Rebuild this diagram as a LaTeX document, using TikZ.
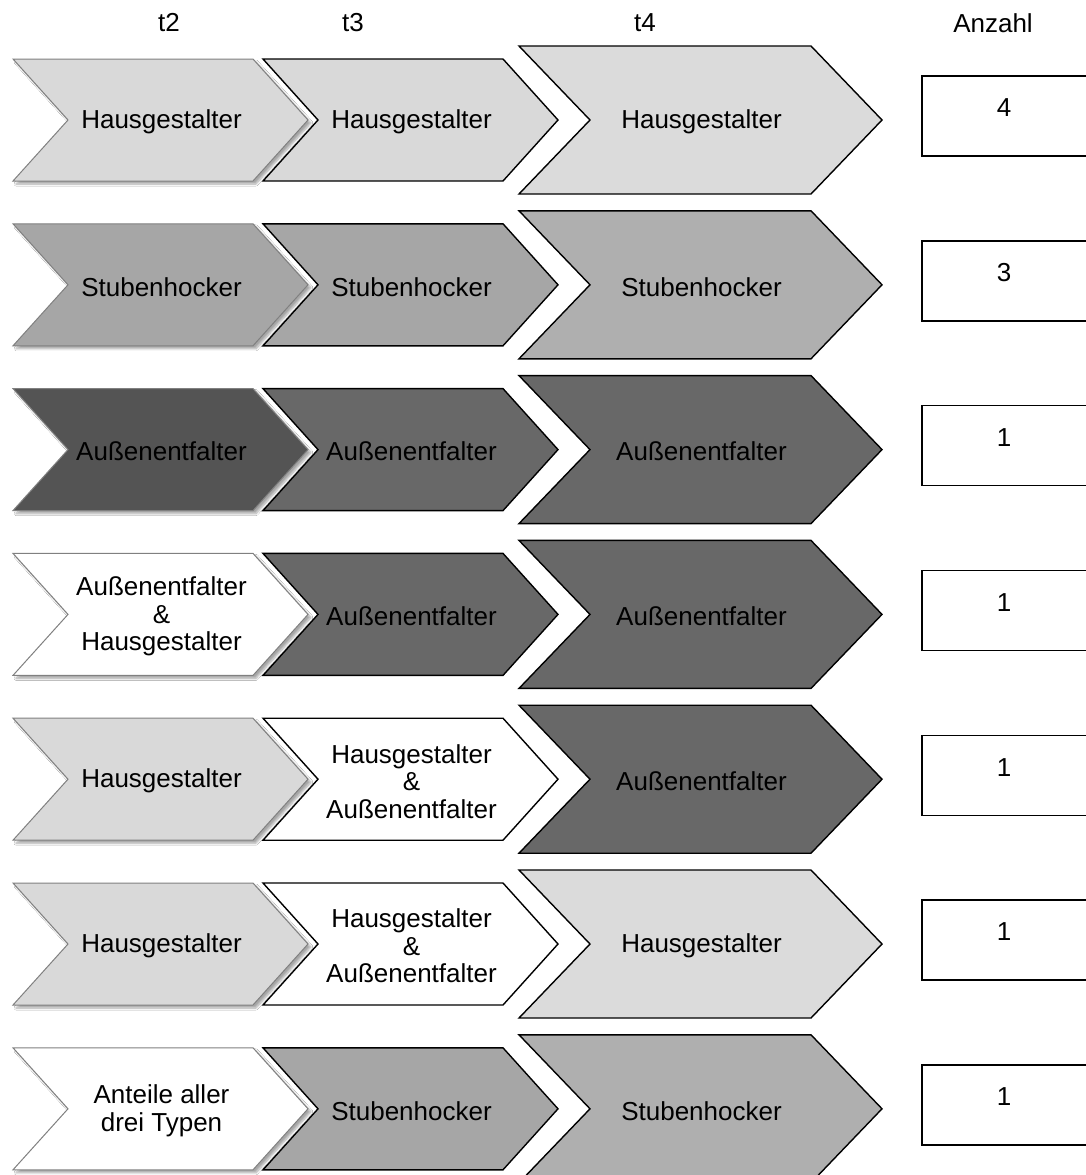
\documentclass[tikz,border=0pt]{standalone}
\usepackage{fontspec}
\setmainfont{Liberation Sans}
\usetikzlibrary{shadows.blur}
\definecolor{lg}{HTML}{D9D9D9}
\definecolor{lg3}{HTML}{DBDBDB}
\definecolor{mg}{HTML}{A6A6A6}
\definecolor{mg3}{HTML}{AFAFAF}
\definecolor{dgA}{HTML}{545454}
\definecolor{dg}{HTML}{686868}
\definecolor{edgeA}{HTML}{808080}
\tikzset{
  firstchev/.style={draw=edgeA, line width=1pt, line join=miter,
    blur shadow={shadow xshift=3pt, shadow yshift=-3pt, shadow blur steps=8, shadow blur radius=2pt, shadow opacity=35}},
  laterchev/.style={draw=black, line width=1.4pt, line join=miter},
  lbl/.style={font=\fontsize{26}{27.5}\selectfont, align=center, inner sep=0pt, text=black},
  countbox/.style={draw=black, line width=1.4pt, fill=white},
}
% name, x0, yc, halfheight, width (to corner), depth, style, text
\newcommand{\chevpiece}[8]{%
  \path[#7] ({#2},{#3-#4}) -- ({#2+#5},{#3-#4}) -- ({#2+#5+#6},{#3}) -- ({#2+#5},{#3+#4}) -- ({#2},{#3+#4}) -- ({#2+#6},{#3}) -- cycle;
  \node[lbl] (#1) at ({#2+(#5+#6)/2+1},{#3+2}) {#8};
}
% name, yc, c1 fill, t1, c2 fill, t2, c3 fill, t3, number
\newcommand{\chevrow}[9]{%
  \chevpiece{#1a}{13}{#2}{61}{240}{55}{firstchev, fill=#3}{#4}
  \chevpiece{#1b}{263}{#2}{61}{240}{55}{laterchev, fill=#5}{#6}
  \chevpiece{#1c}{519}{#2}{74}{292}{71}{laterchev, fill=#7}{#8}
  \path[countbox] (922,{#2-44}) rectangle (1087,{#2+36});
  \node[lbl] (#1n) at (1004,{#2-12}) {#9};
}
\begin{document}
\begin{tikzpicture}[x=1pt,y=-1pt]
\useasboundingbox (0,0) rectangle (1085,1175);
\fill[white] (0,0) rectangle (1085,1175);
\node[lbl] (ht2) at (169,23) {t2};
\node[lbl] (ht3) at (353,23) {t3};
\node[lbl] (ht4) at (645,23) {t4};
\node[lbl] (hanz) at (993,23) {Anzahl};
\chevrow{r1}{120}{lg}{Hausgestalter}{lg}{Hausgestalter}{lg3}{Hausgestalter}{4}
\chevrow{r2}{284.8}{mg}{Stubenhocker}{mg}{Stubenhocker}{mg3}{Stubenhocker}{3}
\chevrow{r3}{449.6}{dgA}{Außenentfalter}{dg}{Außenentfalter}{dg}{Außenentfalter}{1}
\chevrow{r4}{614.4}{white}{Außenentfalter\\\&\\Hausgestalter}{dg}{Außenentfalter}{dg}{Außenentfalter}{1}
\chevrow{r5}{779.2}{lg}{Hausgestalter}{white}{Hausgestalter\\\&\\Außenentfalter}{dg}{Außenentfalter}{1}
\chevrow{r6}{944}{lg}{Hausgestalter}{white}{Hausgestalter\\\&\\Außenentfalter}{lg3}{Hausgestalter}{1}
\chevrow{r7}{1108.8}{white}{Anteile aller\\drei Typen}{mg}{Stubenhocker}{mg3}{Stubenhocker}{1}
\end{tikzpicture}
\end{document}
